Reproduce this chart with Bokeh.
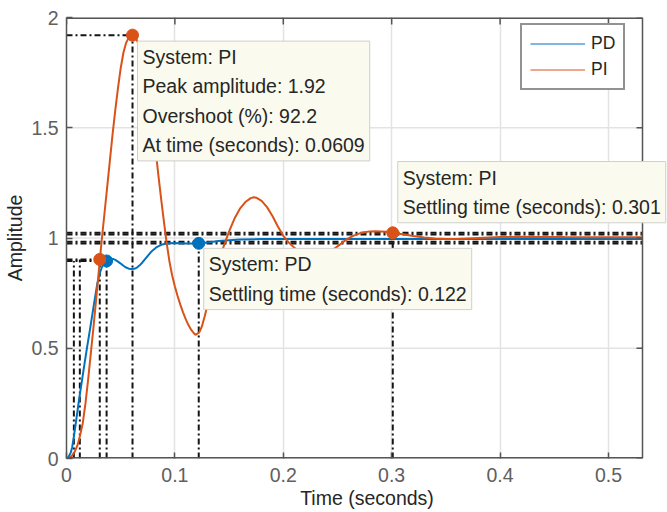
import math
from bokeh.plotting import figure
from bokeh.models import (Range1d, FixedTicker, NumeralTickFormatter,
                          Label, Legend, LegendItem)
from bokeh.embed import file_html
from bokeh.resources import INLINE

# ---- data ----
pd_t = [0, 0.002, 0.004, 0.0052, 0.0068, 0.009, 0.0114, 0.014, 0.016, 0.019, 0.0221,
        0.025, 0.0283, 0.031, 0.033, 0.035, 0.037, 0.039, 0.041, 0.043, 0.045, 0.0475,
        0.050, 0.0525, 0.055, 0.0575, 0.060, 0.0625, 0.065, 0.0675, 0.070, 0.0725,
        0.075, 0.0775, 0.080, 0.0825, 0.085, 0.0875, 0.090, 0.095, 0.100, 0.105,
        0.110, 0.115, 0.120, 0.122, 0.125, 0.130, 0.140, 0.150, 0.160, 0.180, 0.200,
        0.250, 0.300, 0.350, 0.400, 0.450, 0.500, 0.531]
pd_y = [0, 0.008, 0.028, 0.05, 0.0996, 0.175, 0.26, 0.345, 0.41, 0.505, 0.598,
        0.69, 0.79, 0.845, 0.872, 0.888, 0.896, 0.903, 0.906, 0.905, 0.901, 0.893,
        0.884, 0.874, 0.866, 0.861, 0.859, 0.86, 0.866, 0.876, 0.889, 0.904,
        0.919, 0.934, 0.946, 0.956, 0.963, 0.969, 0.973, 0.976, 0.977, 0.9765,
        0.9755, 0.975, 0.9753, 0.9757, 0.977, 0.98, 0.986, 0.99, 0.993, 0.995, 0.9955,
        0.9955, 0.9955, 0.9955, 0.9955, 0.9955, 0.9955, 0.9955]

pi_t = [0, 0.0025, 0.005, 0.0075, 0.010, 0.0123, 0.015, 0.0175, 0.020, 0.0225, 0.025,
        0.0275, 0.030, 0.0325, 0.035, 0.0375, 0.040, 0.0425, 0.045, 0.0475, 0.050,
        0.0525, 0.055, 0.0575, 0.0609, 0.0625, 0.065, 0.0675, 0.070, 0.0725, 0.075,
        0.0775, 0.080, 0.0825, 0.085, 0.0875, 0.090, 0.0925, 0.095, 0.0975, 0.100,
        0.1025, 0.105, 0.1075, 0.110, 0.1125, 0.115, 0.1175, 0.119, 0.1225, 0.125,
        0.1275, 0.130, 0.1325, 0.135, 0.1375, 0.140, 0.145, 0.150, 0.155, 0.160,
        0.165, 0.170, 0.1728, 0.175, 0.180, 0.185, 0.190, 0.195, 0.200, 0.205, 0.210,
        0.215, 0.220, 0.225, 0.230, 0.235, 0.240, 0.245, 0.250, 0.255, 0.260, 0.265,
        0.270, 0.275, 0.280, 0.285, 0.290, 0.295, 0.301, 0.310, 0.320, 0.330, 0.340,
        0.350, 0.360, 0.370, 0.380, 0.390, 0.400, 0.420, 0.440, 0.460, 0.480, 0.500,
        0.531]
pi_y = [0, 0.002, 0.012, 0.03, 0.058, 0.10, 0.16, 0.25, 0.36, 0.48, 0.60,
        0.73, 0.86, 0.99, 1.11, 1.23, 1.35, 1.47, 1.58, 1.68, 1.77,
        1.84, 1.885, 1.91, 1.922, 1.917, 1.897, 1.862, 1.812, 1.748, 1.672,
        1.585, 1.49, 1.385, 1.275, 1.17, 1.07, 0.975, 0.893, 0.83, 0.78,
        0.737, 0.698, 0.663, 0.632, 0.605, 0.584, 0.568, 0.561, 0.572, 0.60,
        0.645, 0.695, 0.748, 0.798, 0.845, 0.888, 0.962, 1.03, 1.088, 1.133,
        1.163, 1.181, 1.185, 1.183, 1.168, 1.14, 1.10, 1.052, 1.01, 0.98, 0.957,
        0.938, 0.925, 0.918, 0.917, 0.921, 0.93, 0.944, 0.962, 0.981, 0.998, 1.011,
        1.02, 1.026, 1.03, 1.031, 1.03, 1.028, 1.0236, 1.017, 1.009, 1.002, 0.998,
        0.996, 0.996, 0.998, 1.0, 1.002, 1.004, 1.006, 1.005, 1.004, 1.0035, 1.0035,
        1.0035]

series_names = ["PD", "PI"]
series_colors = ["#0072BD", "#D95319"]

# characteristics (PD, PI)
rise_tlow = [0.0068, 0.0123]
rise_thigh = [0.037, 0.0307]
rise_level = [0.896, 0.903]
peak_t = 0.0609
peak_amp = 1.92
settle_t = [0.122, 0.301]
settle_amp = [0.9757, 1.0236]
band_levels = [1.0154, 0.9756, 1.0236, 0.9834]

x_ticks = [0, 0.1, 0.2, 0.3, 0.4, 0.5]
y_ticks = [0, 0.5, 1, 1.5, 2]
x_max = 0.5314
y_max = 2

FONT = "Liberation Sans"
DASH = "6 3 2 3"
FRAME = "#555555"

# the frame runs on to the window's right edge so that the data tip can overflow it;
# the visible axes box is drawn by hand up to x_max
W, H, LEFT, TOP, BOTTOM = 667, 512, 66, 17, 54
AX_W = 576
view_max = x_max * (W - LEFT) / AX_W

p = figure(width=W, height=H, output_backend="svg", toolbar_location=None,
           x_range=Range1d(0, view_max), y_range=Range1d(0, y_max),
           min_border_left=LEFT, min_border_right=0, min_border_top=TOP,
           min_border_bottom=BOTTOM, background_fill_color="white",
           border_fill_color="white")
p.outline_line_color = None

for ax in (p.xaxis[0], p.yaxis[0]):
    ax.axis_line_color = FRAME
    ax.axis_line_width = 1.5
    ax.major_tick_in = 6
    ax.major_tick_out = 0
    ax.minor_tick_line_color = None
    ax.major_tick_line_color = FRAME
    ax.major_tick_line_width = 1.5
    ax.major_label_text_font = FONT
    ax.major_label_text_font_size = "19.5px"
    ax.major_label_text_color = "#606060"
    ax.axis_label_text_font = FONT
    ax.axis_label_text_font_size = "19.5px"
    ax.axis_label_text_font_style = "normal"
    ax.axis_label_text_color = "#262626"
    ax.formatter = NumeralTickFormatter(format="0.[0]")

p.xaxis[0].axis_line_color = None
p.xaxis[0].ticker = FixedTicker(ticks=x_ticks)
p.yaxis[0].ticker = FixedTicker(ticks=y_ticks)
p.xaxis[0].axis_label = "Time (seconds)"
p.yaxis[0].axis_label = "Amplitude"
p.xaxis[0].major_label_standoff = 9
p.yaxis[0].major_label_standoff = 8
p.xaxis[0].axis_label_standoff = 2
p.yaxis[0].axis_label_standoff = 2

p.xgrid.ticker = FixedTicker(ticks=x_ticks)
p.xgrid.grid_line_color = "#e3e3e3"
p.xgrid.grid_line_width = 1.5
p.ygrid.visible = False
p.segment(x0=[0] * len(y_ticks), y0=y_ticks, x1=[x_max] * len(y_ticks), y1=y_ticks,
          line_color="#e3e3e3", line_width=1.5)

# characteristic lines
seg = dict(line_color="#141414", line_width=2, line_dash=DASH)
p.segment(x0=[0] * 4, y0=band_levels, x1=[x_max] * 4, y1=band_levels, **seg)
p.segment(x0=[0, 0], y0=rise_level, x1=rise_thigh, y1=rise_level, **seg)
p.segment(x0=rise_tlow, y0=[0, 0], x1=rise_tlow, y1=rise_level, **seg)
p.segment(x0=rise_thigh, y0=[0, 0], x1=rise_thigh, y1=rise_level, **seg)
p.segment(x0=[0], y0=[peak_amp], x1=[peak_t], y1=[peak_amp], **seg)
p.segment(x0=[peak_t], y0=[0], x1=[peak_t], y1=[peak_amp], **seg)
p.segment(x0=settle_t, y0=[0, 0], x1=settle_t, y1=settle_amp, **seg)

# curves
p.line(pd_t, pd_y, line_color=series_colors[0], line_width=2)
p.line(pi_t, pi_y, line_color=series_colors[1], line_width=2)

# markers
p.scatter(x=[rise_thigh[0], settle_t[0]], y=[rise_level[0], settle_amp[0]], size=12,
          fill_color=series_colors[0], line_color=series_colors[0])
p.scatter(x=[rise_thigh[1], peak_t, settle_t[1]], y=[rise_level[1], peak_amp, settle_amp[1]],
          size=12, fill_color=series_colors[1], line_color=series_colors[1])

# axes box: bottom, top, right edges and inner ticks on top / right
p.segment(x0=[0, 0], y0=[0, y_max], x1=[x_max, x_max], y1=[0, y_max],
          line_color=FRAME, line_width=3)
p.segment(x0=[x_max], y0=[0], x1=[x_max], y1=[y_max], line_color=FRAME, line_width=1.5)
p.ray(x=x_ticks, y=[y_max] * len(x_ticks), length=7, length_units="screen",
      angle=-math.pi / 2, line_color=FRAME, line_width=1.5)
p.ray(x=[x_max] * len(y_ticks), y=y_ticks, length=6, length_units="screen",
      angle=math.pi, line_color=FRAME, line_width=1.5)

# legend (thin sample lines, drawn from renderers whose points lie off view)
r_pd = p.line([-1, -0.9], [-1, -1], line_color=series_colors[0], line_width=1.2)
r_pi = p.line([-1, -0.9], [-1, -1], line_color=series_colors[1], line_width=1.2)
legend = Legend(items=[LegendItem(label=series_names[0], renderers=[r_pd]),
                       LegendItem(label=series_names[1], renderers=[r_pi])],
                location=(454, 368), padding=8, spacing=5, margin=0,
                glyph_width=55, glyph_height=19, label_height=19, label_standoff=6,
                label_text_font=FONT, label_text_font_size="17.5px",
                label_text_color="#262626", border_line_color="#262626",
                border_line_width=2, background_fill_color="white",
                background_fill_alpha=1)
p.add_layout(legend)

# data tips
tip = dict(text_font=FONT, text_font_size="19.5px", text_color="#262626",
           text_line_height=1.33, background_fill_color="#fafaee",
           background_fill_alpha=1, border_line_color="#cfcfcf",
           border_line_width=1, padding=5, text_align="left")
p.add_layout(Label(x=peak_t, y=peak_amp, x_offset=5, y_offset=-6, text_baseline="top",
                   text="System: PI\nPeak amplitude: 1.92\nOvershoot (%): 92.2\nAt time (seconds): 0.0609",
                   **tip))
p.add_layout(Label(x=settle_t[0], y=settle_amp[0], x_offset=5, y_offset=-5, text_baseline="top",
                   text="System: PD\nSettling time (seconds): 0.122", **tip))
p.add_layout(Label(x=settle_t[1], y=settle_amp[1], x_offset=5, y_offset=10, text_baseline="bottom",
                   text="System: PI\nSettling time (seconds): 0.301", **tip))

open("out.html", "w").write(file_html(p, INLINE))
